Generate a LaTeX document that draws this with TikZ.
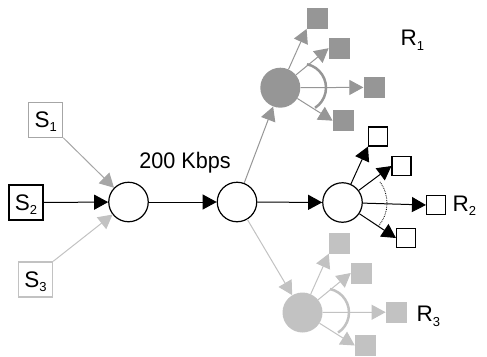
\documentclass[tikz,border=0pt]{standalone}
\usepackage{fontspec}
\setmainfont{Liberation Sans}
\usetikzlibrary{calc,arrows.meta,positioning}

\definecolor{rgrey}{gray}{0.59}
\definecolor{mgrey}{gray}{0.65}
\definecolor{lgrey}{gray}{0.76}
\newcommand\bigfont{\fontsize{22.5}{25}\selectfont}
\newcommand\lowsub[1]{\raisebox{-4.5pt}[0pt][0pt]{\fontsize{13}{13}\selectfont #1}}

\begin{document}
\begin{tikzpicture}[
    x=1pt, y=1pt,
    hub/.style={draw=black,circle,fill=white,line width=1.2pt,minimum size=39.5pt,inner sep=0pt},
    grouphub/.style={circle,fill=#1,minimum size=40pt,inner sep=0pt},
    srcbox/.style={draw=#1,fill=white,line width=1.3pt,minimum width=34pt,minimum height=35pt,inner sep=0pt},
    rcv/.style={fill=#1,minimum size=21pt,inner sep=0pt},
    link/.style={draw=#1,line width=1pt,-{Triangle[length=14pt,width=15pt]}},
    every node/.style={font=\bigfont}]

  \useasboundingbox (0,0) rectangle (487,-356);

  %% Sources and the two routers
  \node[srcbox=mgrey] (src1) at (45.7,-119.7) {S\lowsub{1}};
  \node[srcbox=black] (src2) at (26,-202.5) {S\lowsub{2}};
  \node[srcbox=lgrey] (src3) at (35.5,-279.5) {S\lowsub{3}};

  \node[hub] (hub1) at (128.5,-202) {};
  \node[hub] (hub2) at (237,-202) {};
  \node[anchor=base,inner sep=0pt,xscale=0.96] (rate) at (185,-168.3) {200 Kbps};

  %% Receiver groups
  \node[grouphub=rgrey] (rx1) at (280.3,-87.7) {};
  \node[hub] (rx2) at (342.5,-202.5) {};
  \node[grouphub=lgrey] (rx3) at (302.5,-312.5) {};

  \foreach \g/\col in {1/rgrey,3/lgrey}{
    \foreach \n/\dx/\dy in {1/37/69.5, 2/59/39.5, 3/93.8/0.3, 4/63/-33}{
      \node[rcv=\col] (rx\g-\n) at ($(rx\g)+(\dx,\dy)$) {};
    }
  }
  \foreach \n/\dx/\dy in {1/35.5/66, 2/59/36.5, 3/93.5/-2.5, 4/63.5/-35.5}{
    \node[rcv=white,draw=black,line width=1.1pt,minimum size=19pt] (rx2-\n) at ($(rx2)+(\dx,\dy)$) {};
  }

  \node[anchor=west,inner sep=0pt] (lab1) at (400.5,-38) {R\lowsub{1}};
  \node[anchor=west,inner sep=0pt] (lab2) at (452.5,-203.3) {R\lowsub{2}};
  \node[anchor=west,inner sep=0pt] (lab3) at (416.5,-314) {R\lowsub{3}};

  %% Links
  \draw[link=mgrey] (src1.south east) -- (hub1);
  \draw[link=black] (src2) -- (hub1);
  \draw[link=lgrey] (src3.north east) -- (hub1);
  \draw[link=black] (hub1) -- (hub2);
  \draw[link=rgrey] (hub2) -- (rx1);
  \draw[link=black] (hub2) -- (rx2);
  \draw[link=lgrey] (hub2) -- (rx3);

  \foreach \g/\col in {1/rgrey,2/black,3/lgrey}{
    \draw[link=\col] (rx\g) -- (rx\g-1.south west);
    \foreach \n in {2,3,4}
      \draw[link=\col] (rx\g) -- (rx\g-\n.west);
  }

  %% Fan-out arcs
  \draw[rgrey,line width=2.5pt] ($(rx1)+(21.7,0)$) ++(78:24) arc[start angle=78,end angle=-57,radius=24];
  \draw[lgrey,line width=2.5pt] ($(rx3)+(22.5,0)$) ++(78:24) arc[start angle=78,end angle=-57,radius=24];
  \draw[densely dotted,line width=0.8pt] ($(rx2)+(9.5,-0.5)$) ++(37:35) arc[start angle=37,end angle=-40,radius=35];

\end{tikzpicture}
\end{document}
